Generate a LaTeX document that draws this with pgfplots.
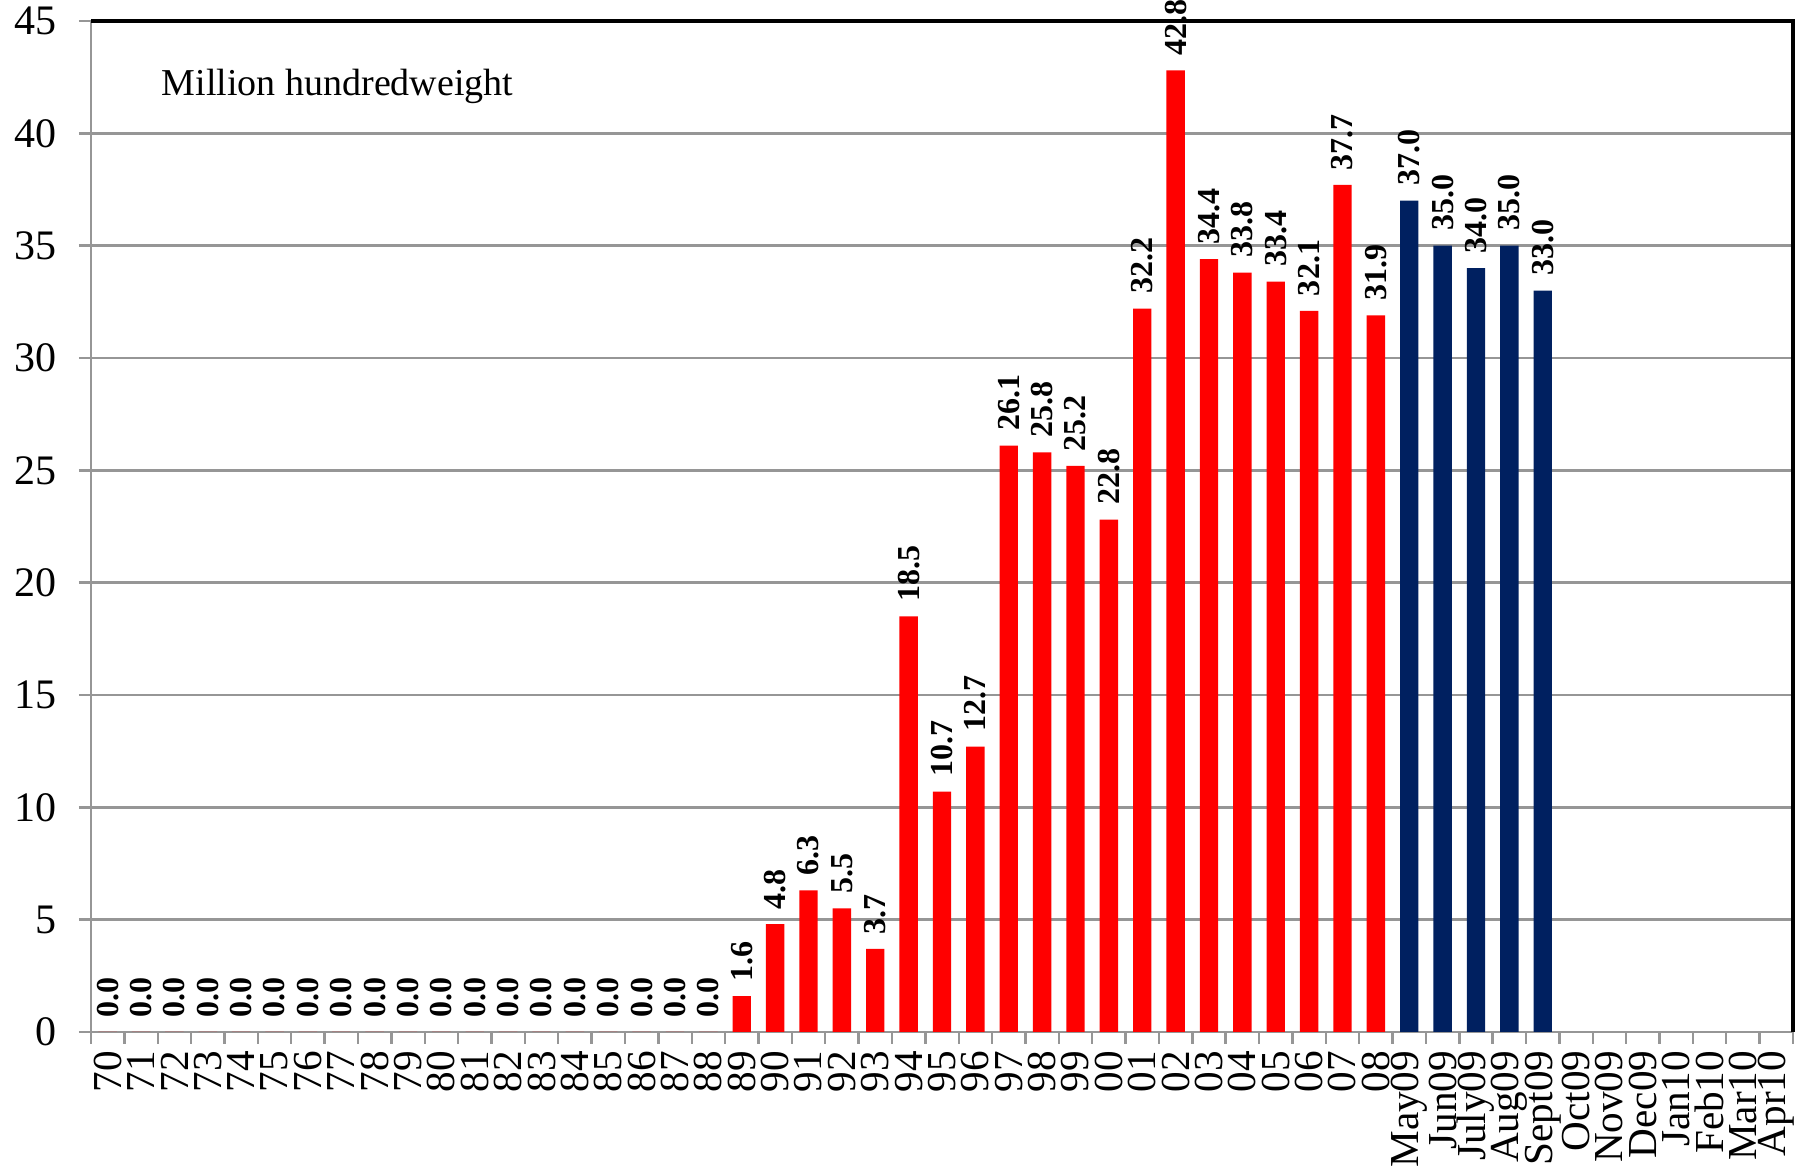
\documentclass[border=0pt]{standalone}
\usepackage{fontspec}
\setmainfont{Liberation Serif}
\usepackage{pgfplots}
\pgfplotsset{compat=1.18}
\definecolor{barred}{RGB}{255,0,0}
\definecolor{barnavy}{RGB}{0,32,96}
\definecolor{gridgray}{RGB}{150,150,150}
\begin{document}
\begin{tikzpicture}
\begin{axis}[
  name=main,
  scale only axis, width=425.5pt, height=252.75pt,
  xmin=-0.5, xmax=50.5, ymin=0, ymax=45,
  clip=false,
  ybar, bar width=4.6pt, bar shift=0pt,
  ytick={0,5,...,45},
  ymajorgrids, grid style={gridgray, line width=0.6pt},
  axis line style={gridgray, line width=0.6pt},
  tick style={gridgray, line width=0.6pt},
  tick align=outside, major tick length=3pt, tick pos=left,
  xtick={-0.5,0.5,...,50.5}, xticklabels={},
  extra x ticks={0,...,50},
  extra x tick labels={70,71,72,73,74,75,76,77,78,79,80,81,82,83,84,85,86,87,88,89,90,91,92,93,94,95,96,97,98,99,00,01,02,03,04,05,06,07,08,May09,Jun09,July09,Aug09,Sept09,Oct09,Nov09,Dec09,Jan10,Feb10,Mar10,Apr10},
  extra x tick style={major tick length=0pt, grid=none,
     xticklabel style={rotate=90, anchor=east, inner sep=0pt, xshift=-4.5pt, font=\fontsize{10.3}{12}\selectfont}},
  yticklabel style={font=\fontsize{10.5}{12}\selectfont, xshift=-2pt},
  /pgf/number format/assume math mode=true,
  nodes near coords,
  nodes near coords style={/pgf/number format/fixed, /pgf/number format/precision=1, /pgf/number format/fixed zerofill},
  every node near coord/.append style={rotate=90, anchor=west, inner sep=0pt, xshift=3.5pt, font=\bfseries\fontsize{8}{9}\selectfont, black},
]
\addplot[fill=barred, draw=none] coordinates {
(0,0.0) (1,0.0) (2,0.0) (3,0.0) (4,0.0) (5,0.0) (6,0.0) (7,0.0) (8,0.0) (9,0.0)
(10,0.0) (11,0.0) (12,0.0) (13,0.0) (14,0.0) (15,0.0) (16,0.0) (17,0.0) (18,0.0)
(19,1.6) (20,4.8) (21,6.3) (22,5.5) (23,3.7) (24,18.5) (25,10.7) (26,12.7) (27,26.1) (28,25.8) (29,25.2)
(30,22.8) (31,32.2) (32,42.8) (33,34.4) (34,33.8) (35,33.4) (36,32.1) (37,37.7) (38,31.9)
};
\addplot[fill=barnavy, draw=none] coordinates {
(39,37.0) (40,35.0) (41,34.0) (42,35.0) (43,33.0)
};
\draw[black, line width=0.8pt] (rel axis cs:0,1) -- (rel axis cs:1,1) -- (rel axis cs:1,0);
\node[anchor=west, inner sep=0pt, font=\fontsize{9.5}{11}\selectfont] at (axis cs:1.6,42.1) {Million hundredweight};
\end{axis}
\pgfresetboundingbox
\path ([shift={(-22.75pt,-34.75pt)}]main.south west) rectangle ([shift={(4.25pt,5.25pt)}]main.north east);
\end{tikzpicture}
\end{document}
